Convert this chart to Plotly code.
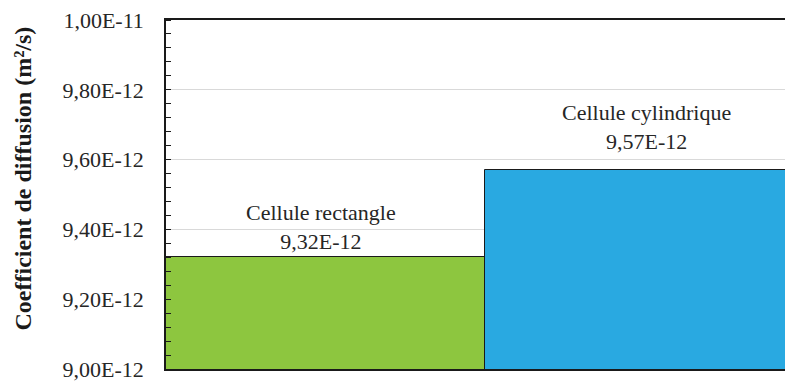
import plotly.graph_objects as go

# ----------------------------------------
# DONNÉES
# ----------------------------------------
cellules = ['Cellule rectangle', 'Cellule cylindrique']
coef_diffusion = [9.32e-12, 9.57e-12]
couleurs = ['#8DC63F', '#29A9E1']

tick_vals = [9.0e-12, 9.2e-12, 9.4e-12, 9.6e-12, 9.8e-12, 1.0e-11]
tick_labels = ['9,00E-12', '9,20E-12', '9,40E-12', '9,60E-12', '9,80E-12', '1,00E-11']

titre_y = 'Coefficient de diffusion (m²/s)'

SERIF = 'Liberation Serif'
# décalage (px) des étiquettes, placées à la main comme dans l'original
decal_x = [-5, 2]
decal_y = [1, 14]


def format_fr(v):
    return f"{v / 1e-12:.2f}E-12".replace('.', ',')


fig = go.Figure()
fig.add_trace(go.Bar(
    x=cellules,
    y=coef_diffusion,
    marker=dict(color=couleurs, line=dict(color='#1a1a1a', width=1)),
    width=1,
    hoverinfo='x+y',
))

# étiquettes de données
for c, v, dx, dy in zip(cellules, coef_diffusion, decal_x, decal_y):
    fig.add_annotation(
        x=c, y=v, text=f"{c}<br>{format_fr(v)}",
        showarrow=False, xanchor='center', yanchor='bottom',
        xshift=dx, yshift=dy,
        font=dict(family=SERIF, size=22, color='#262626'),
    )

# titre de l'axe y (annotation pour le placer comme dans l'original)
fig.add_annotation(
    xref='paper', yref='paper', x=0, y=0.5,
    xshift=-144, yshift=16,
    text=f"<b>{titre_y}</b>", textangle=-90, showarrow=False,
    xanchor='center', yanchor='middle',
    font=dict(family=SERIF, size=24, color='#1a1a1a'),
)

# la page html ajoute une marge de 8 px : on réduit la figure d'autant
fig.update_layout(
    width=785, height=374,
    margin=dict(l=158, r=0, t=10, b=12),
    plot_bgcolor='white',
    paper_bgcolor='white',
    showlegend=False,
    bargap=0,
    font=dict(family=SERIF, color='#262626'),
)

fig.update_xaxes(
    range=[-0.5, 1.465],
    showticklabels=False,
    showline=True, linecolor='#1a1a1a', linewidth=1.5, mirror=True,
    showgrid=False, ticks='',
)

fig.update_yaxes(
    range=[9.0e-12, 1.0e-11],
    tickvals=tick_vals,
    ticktext=tick_labels,
    tickfont=dict(family=SERIF, size=22, color='#262626'),
    ticklabeloverflow='allow',
    showline=True, linecolor='#1a1a1a', linewidth=1.5,
    showgrid=True, gridcolor='#d9d9d9', gridwidth=1,
    ticks='', ticklabelstandoff=16,
    minor=dict(ticks='inside', ticklen=5, tickcolor='#1a1a1a', dtick=0.04e-12, showgrid=False),
)

fig.write_html("out.html")
